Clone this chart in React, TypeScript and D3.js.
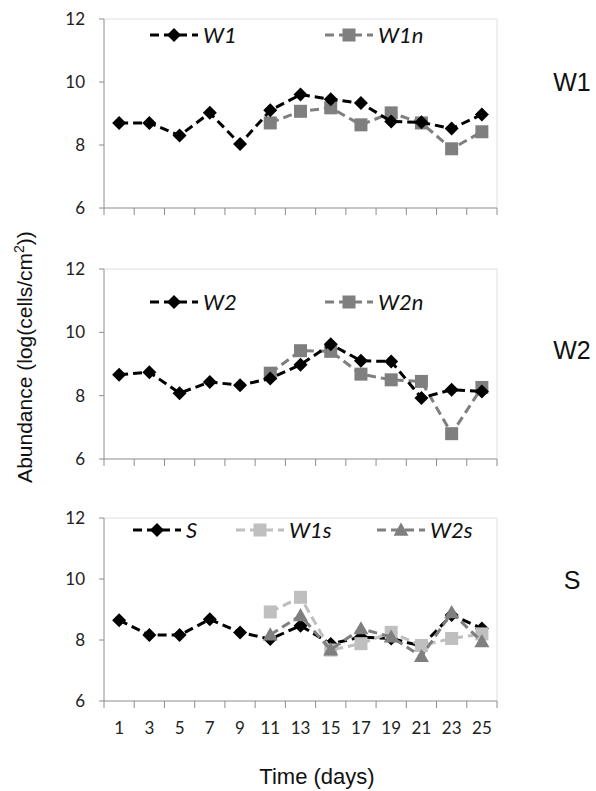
import React from 'react';
import * as d3 from 'd3';

// days on the x axis
const days = [1, 3, 5, 7, 9, 11, 13, 15, 17, 19, 21, 23, 25];
const yTicks = [6, 8, 10, 12];

// panel W1
const w1 = [8.7, 8.7, 8.3, 9.02, 8.03, 9.1, 9.6, 9.45, 9.33, 8.75, 8.72, 8.52, 8.97];
const w1n = [null, null, null, null, null, 8.7, 9.07, 9.18, 8.64, 9.02, 8.7, 7.88, 8.42];
// panel W2
const w2 = [8.66, 8.74, 8.08, 8.43, 8.33, 8.54, 8.98, 9.62, 9.1, 9.08, 7.93, 8.19, 8.13];
const w2n = [null, null, null, null, null, 8.71, 9.42, 9.4, 8.68, 8.5, 8.45, 6.8, 8.26];
// panel S
const s = [8.65, 8.16, 8.16, 8.68, 8.25, 8.03, 8.47, 7.87, 8.1, 8.05, 7.8, 8.82, 8.38];
const w1s = [null, null, null, null, null, 8.92, 9.4, 7.67, 7.88, 8.25, 7.82, 8.05, 8.2];
const w2s = [null, null, null, null, null, 8.17, 8.8, 7.68, 8.37, 8.1, 7.46, 8.9, 7.95];

type Series = { name: string; values: (number | null)[]; color: string; shape: string; legendX: number };

const panels: { label: string; labelY: number; top: number; bottom: number; legendY: number; series: Series[] }[] = [
  {
    label: 'W1', labelY: 82, top: 19, bottom: 208, legendY: 35,
    series: [
      { name: 'W1n', values: w1n, color: '#7f7f7f', shape: 'square', legendX: 325 },
      { name: 'W1', values: w1, color: '#000000', shape: 'diamond', legendX: 150 },
    ],
  },
  {
    label: 'W2', labelY: 350, top: 269, bottom: 459, legendY: 302,
    series: [
      { name: 'W2n', values: w2n, color: '#7f7f7f', shape: 'square', legendX: 325 },
      { name: 'W2', values: w2, color: '#000000', shape: 'diamond', legendX: 150 },
    ],
  },
  {
    label: 'S', labelY: 580, top: 518, bottom: 701, legendY: 530,
    series: [
      { name: 'S', values: s, color: '#000000', shape: 'diamond', legendX: 133 },
      { name: 'W1s', values: w1s, color: '#bfbfbf', shape: 'square', legendX: 236 },
      { name: 'W2s', values: w2s, color: '#7f7f7f', shape: 'triangle', legendX: 377 },
    ],
  },
];

const LEFT = 104;
const RIGHT = 497;
const TICK_FONT = 'Lato, "Open Sans", sans-serif';
const TITLE_FONT = '"Liberation Sans", Arial, sans-serif';

const x = d3.scaleBand<number>().domain(days).range([LEFT, RIGHT]).padding(0);

const Marker = ({ shape, cx, cy, color }: { shape: string; cx: number; cy: number; color: string }) => {
  if (shape === 'diamond') {
    const r = 7;
    return <polygon points={`${cx},${cy - r} ${cx + r},${cy} ${cx},${cy + r} ${cx - r},${cy}`} fill={color} />;
  }
  if (shape === 'square') {
    const r = 6.5;
    return <rect x={cx - r} y={cy - r} width={2 * r} height={2 * r} fill={color} />;
  }
  const r = 7.5;
  return <polygon points={`${cx},${cy - r} ${cx + r},${cy + r * 0.75} ${cx - r},${cy + r * 0.75}`} fill={color} />;
};

const Panel = ({ p, last }: { p: (typeof panels)[number]; last: boolean }) => {
  const y = d3.scaleLinear().domain([6, 12]).range([p.bottom, p.top]);
  const line = d3
    .line<number | null>()
    .defined((d) => d !== null)
    .x((_, i) => (x(days[i]) as number) + x.bandwidth() / 2)
    .y((d) => y(d as number));
  const bounds = days.map((d) => x(d) as number).concat([RIGHT]);
  return (
    <g>
      <line x1={LEFT} x2={RIGHT} y1={p.top} y2={p.top} stroke="#e0e0e0" strokeWidth={1} />
      <line x1={RIGHT} x2={RIGHT} y1={p.top} y2={p.bottom} stroke="#e0e0e0" strokeWidth={1} />
      <line x1={LEFT} x2={LEFT} y1={p.top} y2={p.bottom} stroke="#8c8c8c" strokeWidth={1} />
      <line x1={LEFT} x2={RIGHT} y1={p.bottom} y2={p.bottom} stroke="#8c8c8c" strokeWidth={1} />
      {yTicks.map((t) => (
        <g key={t}>
          <line x1={LEFT - 5} x2={LEFT} y1={y(t)} y2={y(t)} stroke="#8c8c8c" />
          <text x={85} y={y(t)} dy="0.35em" textAnchor="end" fontSize={17} fontFamily={TICK_FONT} fill="#222">
            {t}
          </text>
        </g>
      ))}
      {bounds.map((b, i) => (
        <line key={i} x1={b} x2={b} y1={p.bottom} y2={p.bottom + 7} stroke="#8c8c8c" />
      ))}
      {last &&
        days.map((d) => (
          <text key={d} x={(x(d) as number) + x.bandwidth() / 2} y={p.bottom + 33} textAnchor="middle" fontSize={17} fontFamily={TICK_FONT} fill="#222">
            {d}
          </text>
        ))}
      {p.series.map((sr) => (
        <g key={sr.name}>
          <path d={line(sr.values) || ''} fill="none" stroke={sr.color} strokeWidth={3} strokeDasharray="9,5" />
          {sr.values.map((v, i) =>
            v === null ? null : (
              <Marker key={i} shape={sr.shape} cx={(x(days[i]) as number) + x.bandwidth() / 2} cy={y(v)} color={sr.color} />
            )
          )}
        </g>
      ))}
      {p.series.map((sr) => (
        <g key={'lg' + sr.name}>
          <line x1={sr.legendX} x2={sr.legendX + 48} y1={p.legendY} y2={p.legendY} stroke={sr.color} strokeWidth={3} strokeDasharray="9,5" />
          <Marker shape={sr.shape} cx={sr.legendX + 24} cy={p.legendY} color={sr.color} />
          <text x={sr.legendX + 53} y={p.legendY} dy="0.35em" fontSize={22} fontStyle="italic" fontFamily={TICK_FONT} fill="#111">
            {sr.name}
          </text>
        </g>
      ))}
      <text x={572} y={p.labelY} dy="0.35em" textAnchor="middle" fontSize={25} fontFamily={TITLE_FONT} fill="#111">
        {p.label}
      </text>
    </g>
  );
};

export default function App() {
  return (
    <svg width={596} height={791} style={{ position: 'absolute', left: 0, top: 0, background: '#fff' }}>
      <rect width={596} height={791} fill="#fff" />
      {panels.map((p, i) => (
        <Panel key={p.label} p={p} last={i === panels.length - 1} />
      ))}
      <text x={317} y={776} dy="0.35em" textAnchor="middle" fontSize={22} fontFamily={TITLE_FONT} fill="#111">
        Time (days)
      </text>
      <text transform="translate(25,357) rotate(-90)" dy="0.35em" textAnchor="middle" fontSize={21} fontFamily={TITLE_FONT} fill="#111">
        Abundance (log(cells/cm<tspan dy="-8" fontSize={14}>2</tspan><tspan dy="8">))</tspan>
      </text>
    </svg>
  );
}
